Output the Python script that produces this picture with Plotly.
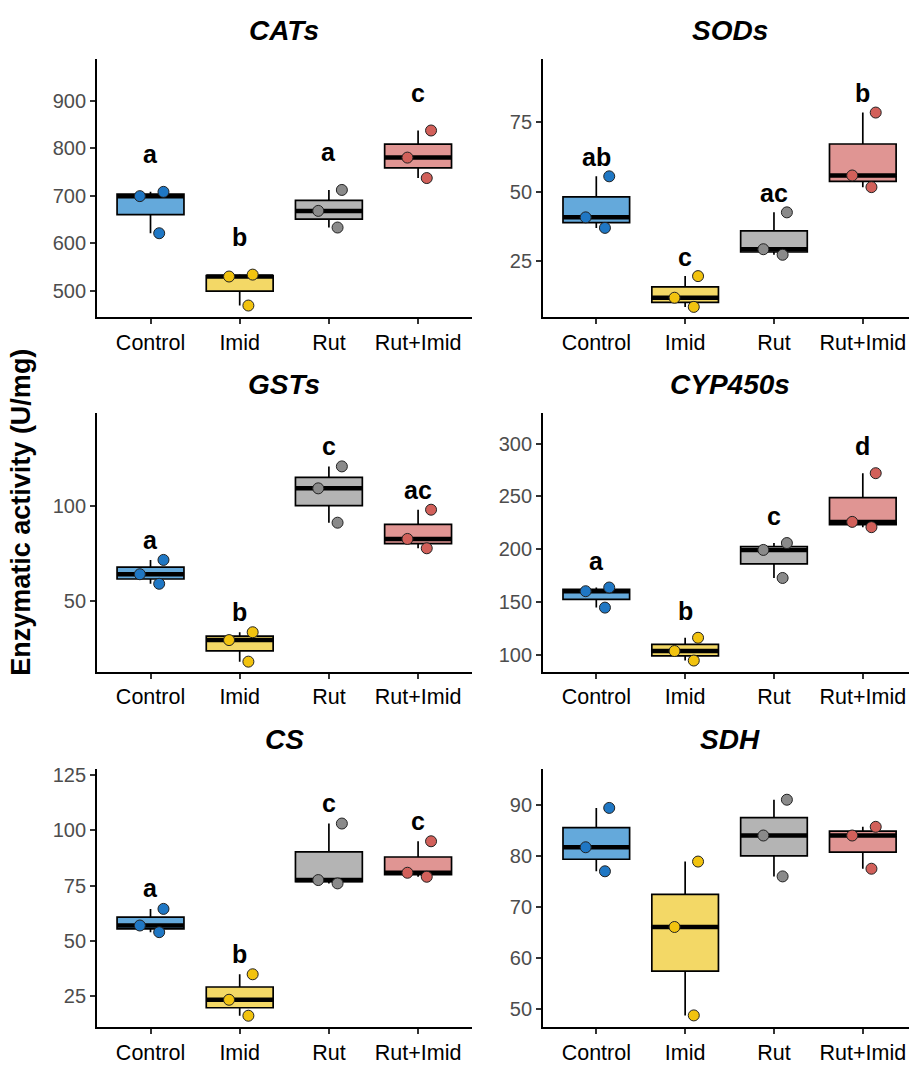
import numpy as np
import plotly.graph_objects as go

# Treatment groups (x categories)
groups = ["Control", "Imid", "Rut", "Rut+Imid"]

# Enzyme activities (U/mg), three replicates per group
cats_vals = [[621, 699, 708], [469, 530, 534], [633, 668, 712], [737, 780, 837]]
sods_vals = [[36.9, 40.7, 55.5], [8.4, 11.7, 19.5], [27.2, 29.2, 42.5], [51.6, 55.8, 78.5]]
gsts_vals = [[59, 64, 71.5], [18.2, 29.5, 33.6], [91, 109, 120.5], [77.6, 82.5, 97.8]]
cyp_vals = [[145, 160.5, 164], [95, 104, 116.5], [173, 199.5, 206], [221, 226, 272]]
cs_vals = [[54, 57, 64.5], [16.3, 23.5, 35], [76, 77.5, 103], [79, 80.8, 95]]
sdh_vals = [[77, 81.7, 89.4], [48.8, 66.1, 78.9], [76, 84, 91], [77.5, 84, 85.7]]

# Significance letters
cats_letters = ["a", "b", "a", "c"]
sods_letters = ["ab", "c", "ac", "b"]
gsts_letters = ["a", "b", "c", "ac"]
cyp_letters = ["a", "b", "c", "d"]
cs_letters = ["a", "b", "c", "c"]
sdh_letters = []

point_colors = ["#1f77c4", "#f2c30f", "#8a8a8a", "#d2605a"]
fill_colors = ["#64a9db", "#f3d866", "#b4b4b4", "#e09593"]

W, H = 909, 1065
FONT = "Liberation Sans, Arial, sans-serif"

# panel: title, values, letters, letter offset, y range, tick step, x px span, y px span, x range end
panels = [
    ("CATs", cats_vals, cats_letters, 79, [444.6, 986.6], 100, (97, 471.6), (55, 316), 3.6),
    ("SODs", sods_vals, sods_letters, 7, [4.7, 97.7], 25, (543, 909), (55, 316), 3.52),
    ("GSTs", gsts_vals, gsts_letters, 10.5, [12.9, 148.5], 50, (97, 471.6), (413, 675), 3.6),
    ("CYP450s", cyp_vals, cyp_letters, 25.5, [84.4, 328.9], 50, (543, 909), (413, 675), 3.52),
    ("CS", cs_vals, cs_letters, 9.3, [11.05, 127.8], 25, (97, 471.6), (773, 1035), 3.6),
    ("SDH", sdh_vals, sdh_letters, 0, [46.46, 97.1], 10, (543, 909), (773, 1035), 3.52),
]

fig = go.Figure()
annotations = []
layout_axes = {}
BOXW = 0.75

for k, (title, vals, letters, off, yr, dt, xs, ys, xend) in enumerate(panels, start=1):
    xa = "x" if k == 1 else f"x{k}"
    ya = "y" if k == 1 else f"y{k}"
    for i, v in enumerate(vals):
        v = np.asarray(v, dtype=float)
        med = float(np.median(v))
        # box + whiskers
        fig.add_trace(go.Box(
            x=[i] * len(v), y=v, xaxis=xa, yaxis=ya, width=BOXW,
            fillcolor=fill_colors[i], line=dict(color="black", width=1.7),
            whiskerwidth=0, boxpoints=False, quartilemethod="inclusive",
            hoverinfo="skip", showlegend=False,
        ))
        # thick median bar
        fig.add_trace(go.Box(
            x=[i], q1=[med], median=[med], q3=[med], lowerfence=[med], upperfence=[med],
            xaxis=xa, yaxis=ya, width=BOXW, fillcolor="black",
            line=dict(color="black", width=4.5), whiskerwidth=0,
            hoverinfo="skip", showlegend=False,
        ))
        # jittered replicate points
        fig.add_trace(go.Box(
            x=[i] * len(v), y=v, xaxis=xa, yaxis=ya, width=BOXW,
            fillcolor="rgba(0,0,0,0)", line=dict(color="rgba(0,0,0,0)", width=0),
            whiskerwidth=0, boxpoints="all", jitter=0.5, pointpos=0,
            marker=dict(color=point_colors[i], size=11, line=dict(color="#222222", width=1)),
            hoverinfo="skip", showlegend=False,
        ))
        if letters:
            annotations.append(dict(
                x=i, y=float(v.max()) + off, xref=xa, yref=ya, text=f"<b>{letters[i]}</b>",
                showarrow=False, font=dict(family=FONT, size=25, color="black"),
                xanchor="center", yanchor="middle",
            ))

    xkey = "xaxis" if k == 1 else f"xaxis{k}"
    ykey = "yaxis" if k == 1 else f"yaxis{k}"
    layout_axes[xkey] = dict(
        domain=[xs[0] / W, xs[1] / W], anchor=ya, range=[-0.6, xend],
        tickvals=list(range(len(groups))), ticktext=groups,
        showline=True, linecolor="black", linewidth=1.8, mirror=False,
        ticks="outside", ticklen=5, tickwidth=1.5, tickcolor="#333333",
        showgrid=False, zeroline=False,
        tickfont=dict(family=FONT, size=21.5, color="black"),
    )
    layout_axes[ykey] = dict(
        domain=[1 - ys[1] / H, 1 - ys[0] / H], anchor=xa, range=yr, dtick=dt,
        tick0=0, showline=True, linecolor="black", linewidth=1.8,
        ticks="outside", ticklen=5, tickwidth=1.5, tickcolor="#333333",
        showgrid=False, zeroline=False,
        tickfont=dict(family=FONT, size=20, color="#4d4d4d"),
    )
    # panel title centred over the full panel width
    full_right = xs[0] + (xs[1] - xs[0]) * (3.6 + 0.6) / (xend + 0.6)
    annotations.append(dict(
        x=(xs[0] + full_right) / 2 / W, y=1 - (ys[0] - 29) / H, xref="paper", yref="paper",
        text=f"<b><i>{title}</i></b>", showarrow=False,
        font=dict(family=FONT, size=28, color="black"), xanchor="center", yanchor="middle",
    ))

annotations.append(dict(
    x=21 / W, y=1 - 514 / H, xref="paper", yref="paper", text="<b>Enzymatic activity (U/mg)</b>",
    textangle=-90, showarrow=False, font=dict(family=FONT, size=27, color="black"),
    xanchor="center", yanchor="middle",
))

fig.update_layout(
    width=W, height=H, margin=dict(l=0, r=0, t=0, b=0),
    paper_bgcolor="white", plot_bgcolor="white", boxmode="overlay",
    showlegend=False, annotations=annotations, **layout_axes,
)

fig.write_html("out.html")
